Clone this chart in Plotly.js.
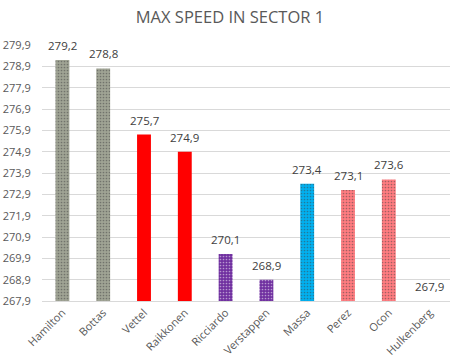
<!DOCTYPE html>
<html>
<head>
<meta charset="utf-8">
<script src="https://cdn.plot.ly/plotly-3.0.1.min.js"></script>
<style>html,body{margin:0;padding:0;background:#fff;}#chart{width:460px;height:362px;}</style>
</head>
<body>
<div id="chart"></div>
<script>
var drivers = ["Hamilton","Bottas","Vettel","Raikkonen","Ricciardo","Verstappen","Massa","Perez","Ocon","Hulkenberg"];
var speeds = [279.2, 278.8, 275.7, 274.9, 270.1, 268.9, 273.4, 273.1, 273.6, 267.9];
var barColors = ["#9fa394","#9fa394","#ff0000","#ff0000","#7030a0","#7030a0","#00b0f0","#ff7c80","#ff7c80","#ff7c80"];
var dotColors = ["#b8a0b4","#b8a0b4","#ff0000","#ff0000","#8a48b8","#8a48b8","#30c0f4","#ff9478","#ff9478","#ff9478"];
var dotShapes = [".",".","","",".",".",".",".",".","."];
var yTicks = [267.9,268.9,269.9,270.9,271.9,272.9,273.9,274.9,275.9,276.9,277.9,278.9,279.9];

var fontFam = "'Open Sans', 'Noto Sans', sans-serif";

var trace = {
  type: "bar",
  x: drivers,
  y: speeds,
  marker: {
    color: barColors,
    pattern: {shape: dotShapes, fgcolor: dotColors, bgcolor: barColors, size: 3, solidity: 0.25, fillmode: "overlay"},
    line: {width: 0}
  },
  hoverinfo: "none"
};

var annotations = drivers.map(function(d, i) {
  return {
    x: d, y: speeds[i], xref: "x", yref: "y",
    text: speeds[i].toFixed(1).replace(".", ","),
    showarrow: false, yanchor: "bottom", yshift: 5,
    font: {family: fontFam, size: 11.5, color: "#404040"}
  };
});

var layout = {
  width: 460, height: 362,
  margin: {l: 42, r: 10, t: 45, b: 61},
  paper_bgcolor: "#ffffff",
  plot_bgcolor: "#ffffff",
  bargap: 0.66,
  showlegend: false,
  title: {text: "MAX SPEED IN SECTOR 1", x: 0.5, xref: "container", xanchor: "center", y: 0.952, yanchor: "middle",
          font: {family: fontFam, size: 16.5, color: "#595959"}},
  xaxis: {
    tickangle: -45,
    tickfont: {family: fontFam, size: 11, color: "#595959"},
    showgrid: false, showline: true, linecolor: "#d9d9d9", linewidth: 1,
    ticks: "", fixedrange: true
  },
  yaxis: {
    range: [267.9, 279.9],
    tickvals: yTicks,
    ticktext: yTicks.map(function(v){ return v.toFixed(1).replace(".", ","); }),
    tickfont: {family: fontFam, size: 11, color: "#595959"},
    showgrid: true, gridcolor: "#d9d9d9", gridwidth: 1,
    zeroline: false, showline: false,
    ticks: "outside", ticklen: 8, tickcolor: "rgba(0,0,0,0)",
    fixedrange: true
  },
  annotations: annotations
};

Plotly.newPlot("chart", [trace], layout, {displayModeBar: false, staticPlot: true});
</script>
</body>
</html>
